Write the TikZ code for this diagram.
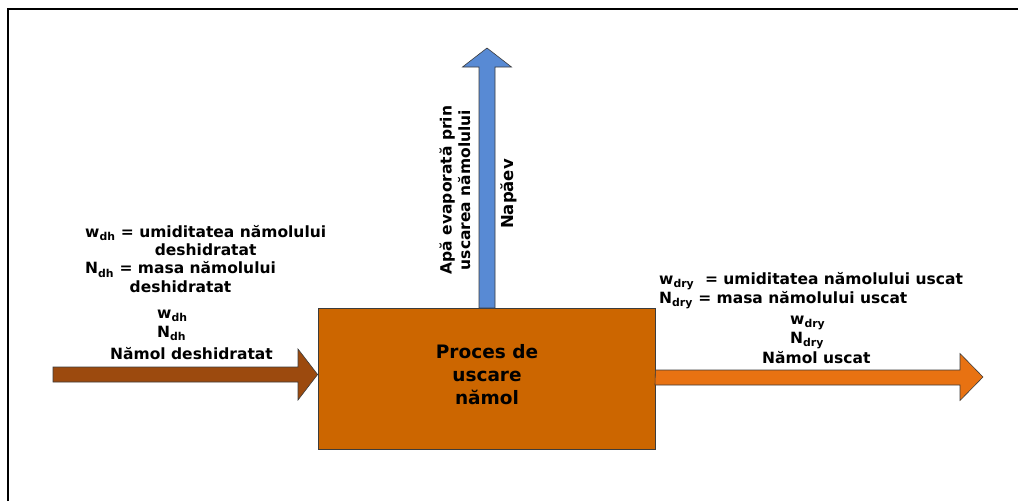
\documentclass[tikz,border=0pt]{standalone}
\usepackage{fontspec}
\setmainfont{DejaVu Sans}
\newcommand\lo[1]{\textsubscript{#1}}
\definecolor{procfill}{RGB}{204,102,0}
\definecolor{infeed}{RGB}{156,74,14}
\definecolor{outfeed}{RGB}{232,114,18}
\definecolor{vapour}{RGB}{88,138,212}
\definecolor{edge}{RGB}{60,60,60}
\tikzset{
  lbl/.style={font=\fontsize{15.5}{18}\selectfont\bfseries, inner sep=0pt, anchor=base west},
  blk/.style={font=\fontsize{15.5}{18.5}\selectfont\bfseries, inner sep=0pt, align=center, anchor=north west},
  procbox/.style={draw=edge, line width=0.8pt, fill=procfill, minimum width=337pt, minimum height=141pt, inner sep=0pt},
  flow/.style={draw=edge, line width=0.6pt, line join=miter}
}
\begin{document}
\begin{tikzpicture}[x=1pt,y=-1pt]
\useasboundingbox (0,0) rectangle (1018,501);
% frame
\draw[line width=2.6pt] (8,501) -- (8,9) -- (1018,9);

% process block
\node[procbox] (proc) at (486.5,378.5) {};
\node[font=\fontsize{18.5}{23}\selectfont\bfseries, align=center, inner sep=0pt] (proclbl) at (487,374.5) {Proces de\\uscare\\nămol};

% inflow arrow (dewatered sludge)
\coordinate (intip) at (proc.west |- 0,374.5);
\draw[flow, fill=infeed] (53,367) -- (298,367) -- (298,349) -- (intip) -- (298,400) -- (298,382) -- (53,382) -- cycle;

% outflow arrow (dried sludge)
\coordinate (outbase) at (proc.east |- 0,377.5);
\draw[flow, fill=outfeed] (outbase) ++(0,-7.5) -- (960,370) -- (960,353.5) -- (983,377) -- (960,400.5) -- (960,385) -- (655,385) -- cycle;

% vapour arrow (evaporated water)
\coordinate (upbase) at (proc.north -| 487,0);
\draw[flow, fill=vapour] (479,308) -- (479,67) -- (462.5,67) -- (487,48) -- (511.5,67) -- (495,67) -- (495,308) -- cycle;

% vertical labels along the vapour arrow
\node[font=\fontsize{15.5}{18.5}\selectfont\bfseries, align=center, rotate=90, inner sep=0pt] (vap1) at (455,190) {Apă evaporată prin\\uscarea nămolului};
\node[font=\fontsize{16.5}{18}\selectfont\bfseries, rotate=90, inner sep=0pt] (vap2) at (509,194) {Napăev};

% inflow definitions
\node[blk] (defw) at (85,225) {w\lo{dh} = umiditatea nămolului\\deshidratat};
\node[blk] (defn) at (85,261.5) {N\lo{dh} = masa nămolului\\deshidratat};
\node[lbl] (inw) at (157,318) {w\lo{dh}};
\node[lbl] (inn) at (157,337) {N\lo{dh}};
\node[lbl] (inname) at (110,359) {Nămol deshidratat};

% outflow definitions
\node[lbl] (defwd) at (659,284) {w\lo{dry}\ \ = umiditatea nămolului uscat};
\node[lbl] (defnd) at (659,303) {N\lo{dry} = masa nămolului uscat};
\node[lbl] (outw) at (790,324) {w\lo{dry}};
\node[lbl] (outn) at (790,343) {N\lo{dry}};
\node[lbl] (outname) at (762,363) {Nămol uscat};
\end{tikzpicture}
\end{document}
